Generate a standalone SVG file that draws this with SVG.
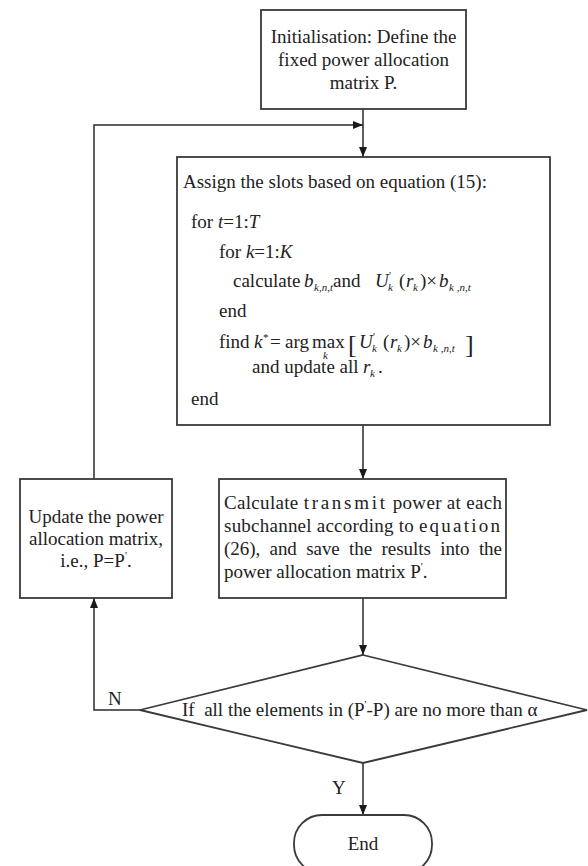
<svg xmlns="http://www.w3.org/2000/svg" width="588" height="866" viewBox="0 0 588 866">
  <style>
    .box { fill: #ffffff; stroke: #3a3a3a; stroke-width: 1.8; }
    .line { fill: none; stroke: #2a2a2a; stroke-width: 1.5; }
    text { font-family: "Liberation Serif", "Times New Roman", serif; font-size: 19px; fill: #222222; }
    .c { text-anchor: middle; }
    .i { font-style: italic; }
    .sub { font-size: 11px; font-style: italic; }
    .sup { font-size: 11px; }
    .pre { white-space: pre; }
  </style>
  <defs>
    <marker id="arrow" markerUnits="userSpaceOnUse" markerWidth="10" markerHeight="8" refX="10" refY="4" orient="auto">
      <path d="M0,0 L10,4 L0,8 Z" fill="#1a1a1a"/>
    </marker>
  </defs>

  <rect width="588" height="866" fill="#ffffff"/>

  <!-- connectors -->
  <g id="connectors">
    <path class="line" d="M363,109 V157" marker-end="url(#arrow)"/>
    <path class="line" d="M94,479 V125 H363" marker-end="url(#arrow)"/>
    <path class="line" d="M363,425 V479" marker-end="url(#arrow)"/>
    <path class="line" d="M363,598 V655" marker-end="url(#arrow)"/>
    <path class="line" d="M363,763 V815" marker-end="url(#arrow)"/>
    <path class="line" d="M140,710 H94 V598" marker-end="url(#arrow)"/>
    <text x="108" y="705">N</text>
    <text x="332" y="794">Y</text>
  </g>

  <!-- initialisation -->
  <g id="init">
    <rect class="box" x="261" y="10" width="205" height="99"/>
    <text class="c" x="363.5" y="43">Initialisation: Define the</text>
    <text class="c" x="363.5" y="66">fixed power allocation</text>
    <text class="c" x="363.5" y="89">matrix P.</text>
  </g>

  <!-- slot assignment -->
  <g id="assign">
    <rect class="box" x="177" y="157" width="373" height="268"/>
    <text x="183" y="188">Assign the slots based on equation (15):</text>
    <text x="191" y="228">for <tspan class="i">t</tspan>=1:<tspan class="i">T</tspan></text>
    <text x="219" y="258">for <tspan class="i">k</tspan>=1:<tspan class="i">K</tspan></text>
    <text x="233" y="287">calculate</text>
    <text class="i" x="304" y="287">b</text>
    <text class="sub" x="314" y="291">k,n,t</text>
    <text x="333" y="287">and</text>
    <text class="i" x="375" y="287">U</text>
    <text class="sup" x="389" y="279">'</text>
    <text class="sub" x="388" y="291">k</text>
    <text x="399" y="287">(</text>
    <text class="i" x="406" y="287">r</text>
    <text class="sub" x="413" y="291">k</text>
    <text x="420" y="287">)×</text>
    <text class="i" x="439" y="287">b</text>
    <text class="sub" x="449" y="291">k ,n,t</text>
    <text x="219" y="317">end</text>
    <text x="219" y="348">find</text>
    <text class="i" x="254" y="348">k</text>
    <text class="sup" x="263" y="341">*</text>
    <text x="270" y="348">=</text>
    <text x="285" y="348">arg</text>
    <text x="312" y="348">max</text>
    <text class="sub" x="323" y="359">k</text>
    <text x="348" y="353" style="font-size:26px">[</text>
    <text class="i" x="359" y="348">U</text>
    <text class="sup" x="373" y="340">'</text>
    <text class="sub" x="372" y="352">k</text>
    <text x="383" y="348">(</text>
    <text class="i" x="390" y="348">r</text>
    <text class="sub" x="397" y="352">k</text>
    <text x="404" y="348">)×</text>
    <text class="i" x="423" y="348">b</text>
    <text class="sub" x="433" y="352">k ,n,t</text>
    <text x="465" y="353" style="font-size:26px">]</text>
    <text x="252" y="373">and update all</text>
    <text class="i" x="363" y="373">r</text>
    <text class="sub" x="370" y="377">k</text>
    <text x="378" y="373">.</text>
    <text x="191" y="405">end</text>
  </g>

  <!-- power calculation -->
  <g id="calc">
    <rect class="box" x="219" y="479" width="287" height="119"/>
    <text x="224" y="509" textLength="278" lengthAdjust="spacing">Calculate <tspan letter-spacing="2.4">transmit</tspan> power at each</text>
    <text x="224" y="532" textLength="278" lengthAdjust="spacing">subchannel according to <tspan letter-spacing="2">equation</tspan></text>
    <text class="pre" x="224" y="555" textLength="278" lengthAdjust="spacing">(26),  and  save  the  results  into  the</text>
    <text x="224" y="578">power allocation matrix P<tspan class="sup" dy="-8">'</tspan><tspan dy="8">.</tspan></text>
  </g>

  <!-- matrix update -->
  <g id="update">
    <rect class="box" x="20" y="479" width="152" height="119"/>
    <text class="c" x="96" y="523">Update the power</text>
    <text class="c" x="96" y="545">allocation matrix,</text>
    <text class="c" x="96" y="567">i.e., P=P<tspan class="sup" dy="-8">'</tspan><tspan dy="8">.</tspan></text>
  </g>

  <!-- convergence test -->
  <g id="decision">
    <polygon class="box" points="363,655 587,710 363,763 140,710"/>
    <text class="pre" x="182" y="716">If  all the elements in (P<tspan class="sup" dy="-8">'</tspan><tspan dy="8">-P) are no more than α</tspan></text>
  </g>

  <!-- terminal -->
  <g id="end">
    <rect class="box" x="294" y="815" width="138" height="58" rx="28" ry="28"/>
    <text class="c" x="363" y="850">End</text>
  </g>
</svg>
